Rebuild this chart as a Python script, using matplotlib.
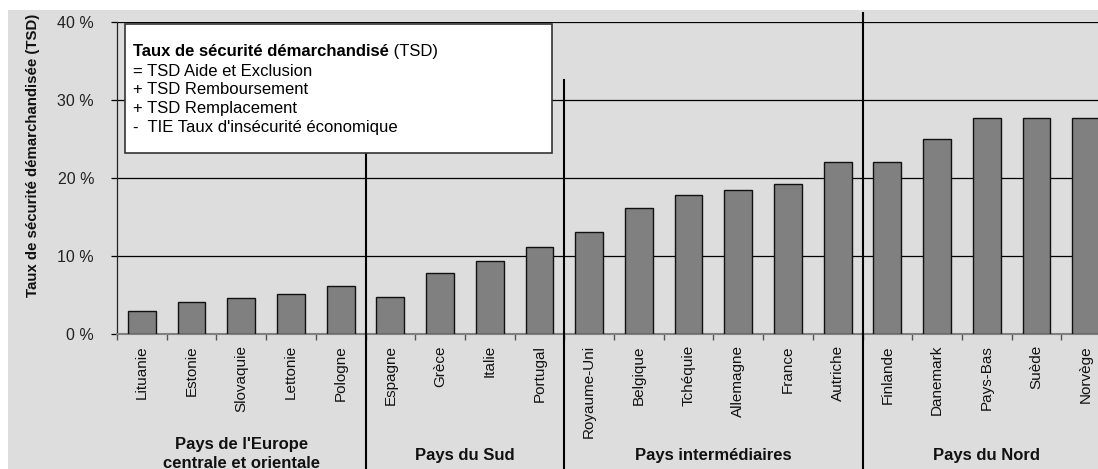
import matplotlib
matplotlib.use('Agg')
import matplotlib.pyplot as plt
from matplotlib.patches import Rectangle
from matplotlib.text import Annotation
import numpy as np

plt.rcParams['font.family'] = ['Liberation Sans', 'DejaVu Sans']

# données (TSD en %)
pays = ['Lituanie', 'Estonie', 'Slovaquie', 'Lettonie', 'Pologne',
        'Espagne', 'Grèce', 'Italie', 'Portugal',
        'Royaume-Uni', 'Belgique', 'Tchéquie', 'Allemagne', 'France', 'Autriche',
        'Finlande', 'Danemark', 'Pays-Bas', 'Suède', 'Norvège']
tsd = [2.9, 4.1, 4.6, 5.1, 6.1,
       4.8, 7.8, 9.3, 11.1,
       13.1, 16.1, 17.8, 18.5, 19.2, 22.0,
       22.1, 25.0, 27.65, 27.7, 27.75]
groupes = ["Pays de l'Europe\ncentrale et orientale", 'Pays du Sud',
           'Pays intermédiaires', 'Pays du Nord']
taille_groupes = [5, 4, 6, 5]
legende = ['= TSD Aide et Exclusion',
           '+ TSD Remboursement',
           '+ TSD Remplacement',
           "-  TIE Taux d'insécurité économique"]

W, H = 1098, 469
fig = plt.figure(figsize=(W / 100, H / 100), dpi=100)
fig.patch.set_facecolor('white')
fig.add_artist(Rectangle((8 / W, 0), 1, (H - 10) / H, transform=fig.transFigure,
                         facecolor='#dddddd', edgecolor='none', zorder=0))

# axe : 0 % à y=334 px, 40 % à y=22 px, 49.7 px par pays
ax = fig.add_axes([117 / W, 1 - 334 / H, 20 * 49.7 / W, 312 / H])
ax.set_facecolor('none')
x = np.arange(len(pays))
ax.bar(x, tsd, width=0.56, color='#808080', edgecolor='#111111', linewidth=1, zorder=3)
ax.set_xlim(-0.5, len(pays) - 0.5)
ax.set_ylim(0, 40)
ax.set_yticks([0, 10, 20, 30, 40])
ax.set_yticklabels([f'{v} %' for v in [0, 10, 20, 30, 40]], fontsize=11.5, color='#222222')
ax.yaxis.grid(True, color='black', linewidth=0.9)
ax.set_axisbelow(True)
ax.tick_params(axis='y', length=4.5, width=0.9, pad=12, direction='out')

ax.set_xticks(x)
ax.set_xticklabels(pays, rotation=90, fontsize=11, va='top', color='#111111')
ax.set_xticks(np.arange(len(pays) + 1) - 0.5, minor=True)
ax.tick_params(axis='x', which='major', length=0, pad=8)
ax.tick_params(axis='x', which='minor', length=4, width=1, color='#555555', direction='out')

for s in ['top', 'right']:
    ax.spines[s].set_visible(False)
ax.spines['left'].set_color('#222222')
ax.spines['left'].set_linewidth(0.9)
ax.spines['bottom'].set_color('#808080')
ax.spines['bottom'].set_linewidth(1.5)

# séparateurs des groupes
bornes = np.cumsum(taille_groupes)[:-1] - 0.5
hauts = [0.58, 0.814, 1.029]
for b, h in zip(bornes, hauts):
    ax.axvline(b, ymin=-135 / 312, ymax=h, color='black', linewidth=1.5,
               clip_on=False, zorder=4)

# noms des groupes
debut = 0
for g, n in zip(groupes, taille_groupes):
    centre = debut + n / 2 - 0.5
    if '\n' in g:
        ax.text(centre, -(449 - 334) / 7.8, g.split('\n')[0], ha='center', va='baseline',
                fontsize=12, fontweight='bold', color='#111111', clip_on=False)
        ax.text(centre, -(468 - 334) / 7.8, g.split('\n')[1], ha='center', va='baseline',
                fontsize=12, fontweight='bold', color='#111111', clip_on=False)
    else:
        ax.text(centre, -(455 - 334) / 7.8, g, ha='center', va='center',
                fontsize=12, fontweight='bold', color='#111111', clip_on=False)
    debut += n

# titre de l'axe
fig.text(33 / W, 1 - 155 / H, 'Taux de sécurité démarchandisée (TSD)', rotation=90,
         ha='center', va='center', fontsize=10.8, fontweight='bold', color='#111111')

# encadré explicatif
fig.add_artist(Rectangle((125 / W, 1 - 153 / H), 427 / W, 129 / H, transform=fig.transFigure,
                         facecolor='white', edgecolor='#333333', linewidth=1.2, zorder=10))
titre = fig.text(133 / W, 1 - 56 / H, 'Taux de sécurité démarchandisé', ha='left',
                 va='baseline', fontsize=12, fontweight='bold', color='black', zorder=11)
suite = Annotation(' (TSD)', xy=(1, 0), xycoords=titre, va='bottom', ha='left',
                   fontsize=12, color='black', annotation_clip=False)
suite.set_zorder(12)
fig.add_artist(suite)
for i, ligne in enumerate(legende):
    y_px = [76, 94.5, 113, 132][i]
    fig.text(133 / W, 1 - y_px / H, ligne, ha='left', va='baseline', fontsize=12,
             color='black', zorder=11)

fig.savefig('out.png', dpi=100, facecolor=fig.get_facecolor())
